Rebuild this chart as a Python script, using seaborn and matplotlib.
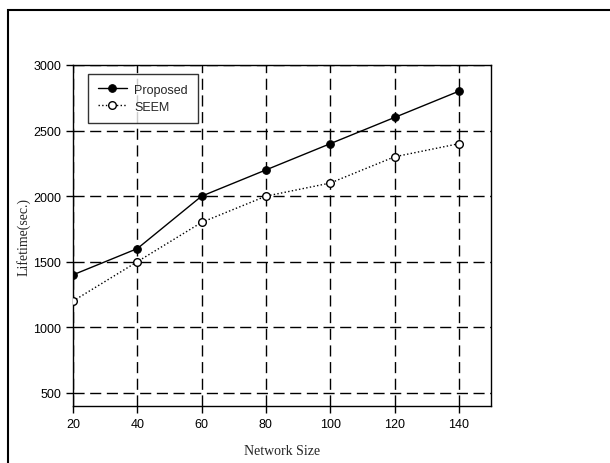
import matplotlib
matplotlib.use("Agg")
import matplotlib.pyplot as plt
import seaborn as sns
import pandas as pd
from matplotlib.patches import Rectangle

network_size = [20, 40, 60, 80, 100, 120, 140]
proposed = [1400, 1600, 2000, 2200, 2400, 2600, 2800]
seem = [1200, 1500, 1800, 2000, 2100, 2300, 2400]
x_ticks = [20, 40, 60, 80, 100, 120, 140]
y_ticks = [500, 1000, 1500, 2000, 2500, 3000]

sns.set_style("white")
plt.rcParams['font.family'] = ['Liberation Sans', 'DejaVu Sans']

df = pd.DataFrame({
    "Network Size": network_size * 2,
    "Lifetime": proposed + seem,
    "Method": ["Proposed"] * len(proposed) + ["SEEM"] * len(seem),
})

fig = plt.figure(figsize=(6.1, 4.64), dpi=100)
ax = fig.add_axes([73/610, 1-407/464, (491-73)/610, (407-66)/464])

sns.lineplot(data=df[df.Method == "Proposed"], x="Network Size", y="Lifetime",
             ax=ax, color="black", linewidth=1.0, linestyle="-", marker="o",
             markersize=5.5, markerfacecolor="black", markeredgecolor="black",
             label="Proposed", zorder=5)
sns.lineplot(data=df[df.Method == "SEEM"], x="Network Size", y="Lifetime",
             ax=ax, color="black", linewidth=1.0, linestyle=":", marker="o",
             markersize=5.5, markerfacecolor="white", markeredgecolor="black",
             markeredgewidth=1.0, label="SEEM", zorder=5)

ax.set_xlim(20, 150)
ax.set_ylim(400, 3000)
ax.set_xticks(x_ticks)
ax.set_yticks(y_ticks)
ax.grid(True, color="black", linestyle=(0, (8, 4)), linewidth=1.0)
for s in ax.spines.values():
    s.set_color("black")
    s.set_linewidth(1.0)
ax.tick_params(axis="both", direction="out", length=5, width=1.0, colors="black",
               labelsize=9, left=True, bottom=True)
ax.set_xlabel("Network Size", family=["Liberation Serif"], fontsize=10, labelpad=10)
ax.set_ylabel("Lifetime(sec.)", family=["Liberation Serif"], fontsize=10, labelpad=2)

leg = ax.legend(loc="upper left", bbox_to_anchor=(0.036, 0.974), borderaxespad=0,
                frameon=True, fancybox=False, edgecolor="black", fontsize=9,
                handlelength=2.3, handletextpad=0.6, borderpad=0.8, labelspacing=0.4)
leg.get_frame().set_linewidth(1.0)

fig.patches.append(Rectangle((8/610, -0.02), 1.1, 1-11/464+0.02, transform=fig.transFigure,
                             fill=False, edgecolor="black", linewidth=1.5, figure=fig))

fig.savefig("out.png", dpi=100)
